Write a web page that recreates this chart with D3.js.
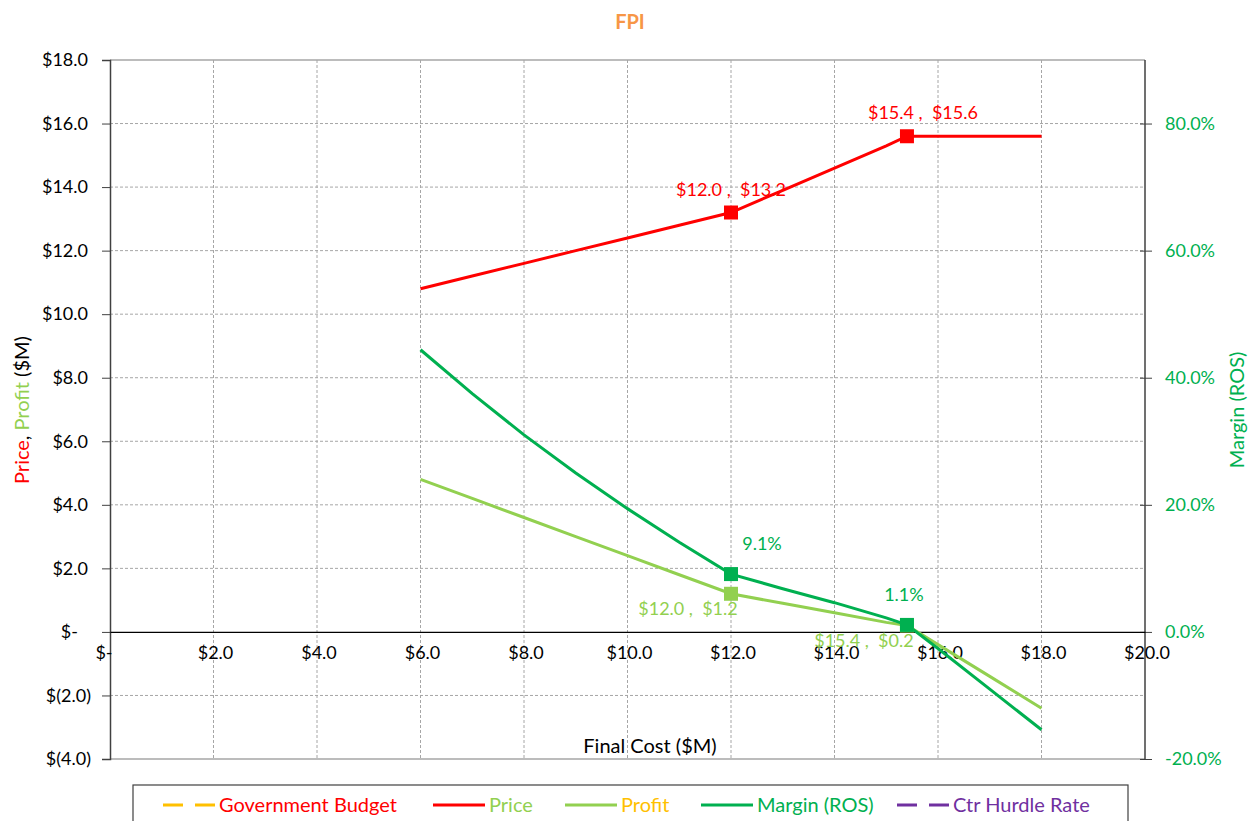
<!DOCTYPE html>
<html>
<head>
<meta charset="utf-8">
<script src="https://cdn.jsdelivr.net/npm/d3@7"></script>
<style>
  html, body { margin: 0; padding: 0; background: #fff; }
  svg { display: block; font-family: Lato, "Open Sans", sans-serif; }
</style>
</head>
<body>
<svg id="chart" width="1255" height="821"></svg>
<script>
// Final cost ($M) at each computed point
const costs   = [6, 7, 8, 9, 10, 11, 12, 13, 14, 15, 15.4, 16, 17, 18];
// Contract price ($M)
const price   = [10.8, 11.2, 11.6, 12.0, 12.4, 12.8, 13.2, 13.9, 14.6, 15.3, 15.6, 15.6, 15.6, 15.6];
// Contractor profit ($M)
const profit  = [4.8, 4.2, 3.6, 3.0, 2.4, 1.8, 1.2, 0.9, 0.6, 0.3, 0.2, -0.4, -1.4, -2.4];
// Margin, return on sales (fraction)
const margin  = [0.444, 0.375, 0.310, 0.250, 0.194, 0.141, 0.091, 0.068, 0.046, 0.022, 0.011, -0.026, -0.090, -0.154];
// Costs at which markers and value labels are shown
const markedCosts = [12, 15.4];

const xTicks = [0, 2, 4, 6, 8, 10, 12, 14, 16, 18, 20];
const xTickLabels = ["$-", "$2.0", "$4.0", "$6.0", "$8.0", "$10.0", "$12.0", "$14.0", "$16.0", "$18.0", "$20.0"];
const yTicks = [-4, -2, 0, 2, 4, 6, 8, 10, 12, 14, 16, 18];
const yTickLabels = ["$(4.0)", "$(2.0)", "$-", "$2.0", "$4.0", "$6.0", "$8.0", "$10.0", "$12.0", "$14.0", "$16.0", "$18.0"];
const y2Ticks = [-0.2, 0, 0.2, 0.4, 0.6, 0.8];
const y2TickLabels = ["-20.0%", "0.0%", "20.0%", "40.0%", "60.0%", "80.0%"];

const legendNames = ["Government Budget", "Price", "Profit", "Margin (ROS)", "Ctr Hurdle Rate"];

const C = {
  red: "#FF0000", lime: "#92D050", green: "#00B050", gold: "#FFC000",
  purple: "#7030A0", orange: "#F79646", grid: "#A6A6A6", axis: "#404040"
};

const svg = d3.select("#chart");
const L = 110, R = 1145, T = 60, B = 759;

const x = d3.scaleLinear().domain([0, 20]).range([L, R]);
const y = d3.scaleLinear().domain([-4, 18]).range([B, T]);
const y2 = d3.scaleLinear().domain([-0.2, 0.9]).range([B, T]);

// Title
svg.append("text").attr("x", 630).attr("y", 29).attr("text-anchor", "middle")
  .attr("font-size", 20).attr("font-weight", "bold").attr("fill", C.orange).text("FPI");

// Gridlines
const grid = svg.append("g");
grid.selectAll("line.h").data(yTicks.filter(v => v !== 0 && v !== -4 && v !== 18)).join("line")
  .attr("x1", L).attr("x2", R).attr("y1", d => y(d)).attr("y2", d => y(d))
  .attr("stroke", C.grid).attr("stroke-dasharray", "3,2");
grid.selectAll("line.v").data(xTicks.filter(v => v !== 0 && v !== 20)).join("line")
  .attr("x1", d => x(d)).attr("x2", d => x(d)).attr("y1", T).attr("y2", B)
  .attr("stroke", C.grid).attr("stroke-dasharray", "3,2");
// Plot frame top and bottom
svg.append("line").attr("x1", L).attr("x2", R).attr("y1", T).attr("y2", T).attr("stroke", C.grid).attr("stroke-width", 1.5);
svg.append("line").attr("x1", L).attr("x2", R).attr("y1", B).attr("y2", B).attr("stroke", C.grid).attr("stroke-width", 1.5);

// Left axis
const leftAxis = d3.axisLeft(y).tickValues(yTicks).tickSize(8).tickFormat("");
const gl = svg.append("g").attr("transform", `translate(${L},0)`).call(leftAxis);
gl.select(".domain").attr("stroke", C.axis).attr("stroke-width", 1.5);
gl.selectAll(".tick line").attr("stroke", C.axis);
svg.append("g").selectAll("text").data(yTicks).join("text")
  .attr("x", d => d < 0 ? L - 19 : (d === 0 ? L - 32 : L - 22))
  .attr("y", d => y(d)).attr("dy", "0.35em").attr("text-anchor", "end")
  .attr("font-size", 18).attr("fill", "#000")
  .text((d, i) => yTickLabels[i]);

// Right axis
const rightAxis = d3.axisRight(y2).tickValues(y2Ticks).tickSize(7).tickFormat("");
const gr = svg.append("g").attr("transform", `translate(${R},0)`).call(rightAxis);
gr.select(".domain").attr("stroke", C.axis).attr("stroke-width", 1.5).attr("d", `M0,${T}V${B}`);
gr.selectAll(".tick line").attr("stroke", C.axis).attr("x1", -5);
svg.append("g").selectAll("text").data(y2Ticks).join("text")
  .attr("x", R + 20).attr("y", d => y2(d)).attr("dy", "0.35em").attr("text-anchor", "start")
  .attr("font-size", 18).attr("fill", C.green)
  .text((d, i) => y2TickLabels[i]);

// X axis along zero
const bottomAxis = d3.axisBottom(x).tickValues(xTicks).tickSize(0).tickFormat("");
const gx = svg.append("g").attr("transform", `translate(0,${y(0)})`).call(bottomAxis);
gx.select(".domain").attr("stroke", "#000").attr("stroke-width", 1.2);
svg.append("g").selectAll("text").data(xTicks).join("text")
  .attr("x", d => d === 0 ? x(d) - 6 : x(d) + 2).attr("y", y(0) + 27).attr("text-anchor", "middle")
  .attr("font-size", 18).attr("fill", "#000")
  .text((d, i) => xTickLabels[i]);

// Axis titles
svg.append("text").attr("x", 650).attr("y", 753).attr("text-anchor", "middle")
  .attr("font-size", 20).attr("fill", "#000").text("Final Cost ($M)");

const yt = svg.append("text").attr("transform", "translate(29,410) rotate(-90)")
  .attr("text-anchor", "middle").attr("font-size", 20);
yt.append("tspan").attr("fill", C.red).text("Price");
yt.append("tspan").attr("fill", "#000").text(", ");
yt.append("tspan").attr("fill", C.lime).text("Profit");
yt.append("tspan").attr("fill", "#000").text(" ($M)");

svg.append("text").attr("transform", "translate(1244,410) rotate(-90)")
  .attr("text-anchor", "middle").attr("font-size", 20).attr("fill", C.green).text("Margin (ROS)");

// Series lines
const rows = costs.map((c, i) => ({ c, price: price[i], profit: profit[i], margin: margin[i] }));
const lineP = d3.line().x(d => x(d.c)).y(d => y(d.price));
const lineQ = d3.line().x(d => x(d.c)).y(d => y(d.profit));
const lineM = d3.line().x(d => x(d.c)).y(d => y2(d.margin));

svg.append("path").datum(rows).attr("d", lineP).attr("fill", "none").attr("stroke", C.red).attr("stroke-width", 3);
svg.append("path").datum(rows).attr("d", lineQ).attr("fill", "none").attr("stroke", C.lime).attr("stroke-width", 3);
svg.append("path").datum(rows).attr("d", lineM).attr("fill", "none").attr("stroke", C.green).attr("stroke-width", 3);

// Markers at highlighted costs
const marked = rows.filter(r => markedCosts.includes(r.c));
const ms = 14;
function squares(acc, scale, color) {
  svg.append("g").selectAll("rect").data(marked).join("rect")
    .attr("x", d => x(d.c) - ms / 2).attr("y", d => scale(acc(d)) - ms / 2)
    .attr("width", ms).attr("height", ms).attr("fill", color);
}
squares(d => d.profit, y, C.lime);
squares(d => d.price, y, C.red);
squares(d => d.margin, y2, C.green);

// Value labels
const money = v => "$" + d3.format(".1f")(v);
const pct = v => d3.format(".1f")(v * 100) + "%";
const sep = "\u00A0,\u00A0\u00A0";
svg.append("g").selectAll("text").data(marked).join("text")
  .attr("x", (d, i) => x(d.c) + (i === 0 ? 0 : 16)).attr("y", d => y(d.price) - 17)
  .attr("text-anchor", "middle").attr("font-size", 18).attr("fill", C.red)
  .text(d => money(d.c) + sep + money(d.price));
svg.append("g").selectAll("text").data(marked).join("text")
  .attr("x", d => x(d.c) - 43).attr("y", d => y(d.profit) + 21)
  .attr("text-anchor", "middle").attr("font-size", 18).attr("fill", C.lime)
  .text(d => money(d.c) + sep + money(d.profit));
svg.append("g").selectAll("text").data(marked).join("text")
  .attr("x", (d, i) => x(d.c) + (i === 0 ? 31 : -3)).attr("y", d => y2(d.margin) - 24)
  .attr("text-anchor", "middle").attr("font-size", 18).attr("fill", C.green)
  .text(d => pct(d.margin));

// Legend
const lg = svg.append("g");
lg.append("rect").attr("x", 133).attr("y", 785).attr("width", 995).attr("height", 60)
  .attr("fill", "#fff").attr("stroke", "#404040").attr("stroke-width", 1.2);
const legendLine = [C.gold, C.red, C.lime, C.green, C.purple];
const legendText = [C.red, C.lime, C.gold, C.green, C.purple];
const legendDash = [true, false, false, false, true];
const legendX = [163, 433, 565, 701, 897];
legendNames.forEach((name, i) => {
  const x0 = legendX[i], yy = 805;
  lg.append("line").attr("x1", x0).attr("x2", x0 + 52).attr("y1", yy).attr("y2", yy)
    .attr("stroke", legendLine[i]).attr("stroke-width", 3)
    .attr("stroke-dasharray", legendDash[i] ? "20,12" : null);
  lg.append("text").attr("x", x0 + 56).attr("y", yy).attr("dy", "0.35em")
    .attr("font-size", 20).attr("fill", legendText[i]).text(name);
});
</script>
</body>
</html>
